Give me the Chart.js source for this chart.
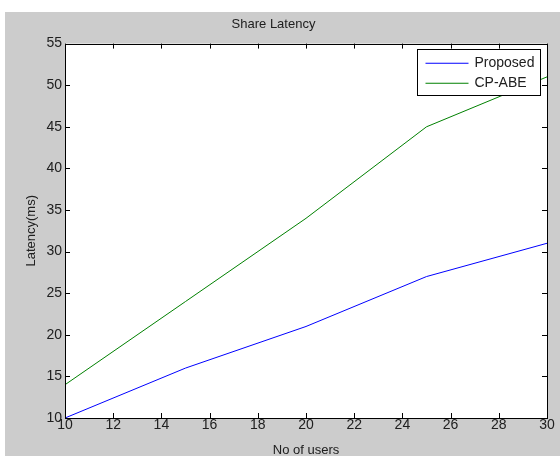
<!DOCTYPE html>
<html>
<head>
<meta charset="utf-8">
<script src="https://cdn.jsdelivr.net/npm/chart.js@4/dist/chart.umd.min.js"></script>
<style>
  html, body { margin: 0; padding: 0; background: #ffffff; }
  #wrap { width: 560px; height: 456px; }
</style>
</head>
<body>
<div id="wrap"><canvas id="c" width="560" height="456"></canvas></div>
<script>
// Share latency measurements (ms) by number of users
const users = [10, 15, 20, 25, 30];
const proposedLatency = [10, 16, 21, 27, 31];
const cpabeLatency = [14, 24, 34, 45, 51];
const seriesNames = ['Proposed', 'CP-ABE'];
const seriesColors = ['#0000ff', '#008000'];
const xTickValues = [10, 12, 14, 16, 18, 20, 22, 24, 26, 28, 30];
const yTickValues = [10, 15, 20, 25, 30, 35, 40, 45, 50, 55];

const FONT = 'Arial, "Liberation Sans", Helvetica, sans-serif';
const TEXT = '#202020';

const toPoints = (xs, ys) => xs.map((x, i) => ({ x: x, y: ys[i] }));

// Figure background, boxed axes with inward ticks on all four sides, and an inset legend
const figurePlugin = {
  id: 'figure',
  beforeDraw(chart) {
    const { ctx, chartArea: a } = chart;
    ctx.save();
    ctx.fillStyle = '#ffffff';
    ctx.fillRect(0, 0, chart.width, chart.height);
    ctx.fillStyle = '#cccccc';
    ctx.fillRect(5, 12, chart.width - 5, chart.height - 12);
    ctx.fillStyle = '#ffffff';
    ctx.fillRect(a.left, a.top, a.right - a.left, a.bottom - a.top);
    ctx.restore();
  },
  afterDraw(chart) {
    const { ctx, chartArea: a } = chart;
    const xs = chart.scales.x, ys = chart.scales.y;
    const len = 5;
    ctx.save();
    ctx.strokeStyle = '#000000';
    ctx.lineWidth = 1;
    ctx.beginPath();
    xs.ticks.forEach(t => {
      const px = Math.round(xs.getPixelForValue(t.value)) + 0.5;
      ctx.moveTo(px, a.bottom); ctx.lineTo(px, a.bottom - len);
      ctx.moveTo(px, a.top); ctx.lineTo(px, a.top + len);
    });
    ys.ticks.forEach(t => {
      const py = Math.round(ys.getPixelForValue(t.value)) + 0.5;
      ctx.moveTo(a.left, py); ctx.lineTo(a.left + len, py);
      ctx.moveTo(a.right, py); ctx.lineTo(a.right - len, py);
    });
    ctx.stroke();
    ctx.strokeRect(Math.round(a.left) + 0.5, Math.round(a.top) + 0.5,
                   Math.round(a.right - a.left), Math.round(a.bottom - a.top));

    // legend box
    const bx = Math.round(a.right) - 130 + 0.5, by = Math.round(a.top) + 5 + 0.5;
    const bw = 123, bh = 46;
    ctx.fillStyle = '#ffffff';
    ctx.fillRect(bx, by, bw, bh);
    ctx.strokeStyle = '#000000';
    ctx.strokeRect(bx, by, bw, bh);
    ctx.font = '14px ' + FONT;
    ctx.textBaseline = 'middle';
    ctx.textAlign = 'left';
    chart.data.datasets.forEach((ds, i) => {
      const y = Math.round(by + 13 + i * 20.5) + 0.25;
      ctx.strokeStyle = seriesColors[i];
      ctx.lineWidth = 1.2;
      ctx.beginPath();
      ctx.moveTo(bx + 8, y); ctx.lineTo(bx + 51, y);
      ctx.stroke();
      ctx.fillStyle = TEXT;
      ctx.fillText(ds.label, bx + 57, Math.round(y));
    });
    ctx.restore();
  }
};

new Chart(document.getElementById('c'), {
  type: 'line',
  data: {
    datasets: [
      { label: seriesNames[0], data: toPoints(users, proposedLatency),
        borderColor: seriesColors[0], borderWidth: 1, pointRadius: 0, tension: 0, fill: false },
      { label: seriesNames[1], data: toPoints(users, cpabeLatency),
        borderColor: seriesColors[1], borderWidth: 1, pointRadius: 0, tension: 0, fill: false }
    ]
  },
  options: {
    responsive: false,
    animation: false,
    devicePixelRatio: 1,
    layout: { padding: { left: 0, right: 13, top: 0, bottom: 0 } },
    plugins: {
      legend: { display: false },
      tooltip: { enabled: false },
      title: {
        display: true,
        text: 'Share Latency',
        color: TEXT,
        font: { family: FONT, size: 13, weight: 'normal', lineHeight: 1.2 },
        padding: { top: 17, bottom: 11 }
      }
    },
    scales: {
      x: {
        type: 'linear',
        min: 10, max: 30,
        afterBuildTicks: s => { s.ticks = xTickValues.map(v => ({ value: v })); },
        afterFit: s => { s.height = 38; },
        grid: { display: false, drawTicks: false },
        border: { display: false },
        ticks: { color: TEXT, padding: 0, font: { family: FONT, size: 14, lineHeight: 1 }, maxRotation: 0, autoSkip: false },
        title: { display: true, text: 'No of users', color: TEXT,
                 font: { family: FONT, size: 13, lineHeight: 1 }, padding: { top: 0, bottom: -1 } }
      },
      y: {
        type: 'linear',
        min: 10, max: 55,
        afterBuildTicks: s => { s.ticks = yTickValues.map(v => ({ value: v })); },
        afterFit: s => { s.width = 65; },
        grid: { display: false, drawTicks: false },
        border: { display: false },
        ticks: { color: TEXT, padding: 3, font: { family: FONT, size: 14, lineHeight: 1 }, autoSkip: false },
        title: { display: true, text: 'Latency(ms)', color: TEXT,
                 font: { family: FONT, size: 13, lineHeight: 1 }, padding: { top: 25, bottom: 0 } }
      }
    }
  },
  plugins: [figurePlugin]
});
</script>
</body>
</html>
